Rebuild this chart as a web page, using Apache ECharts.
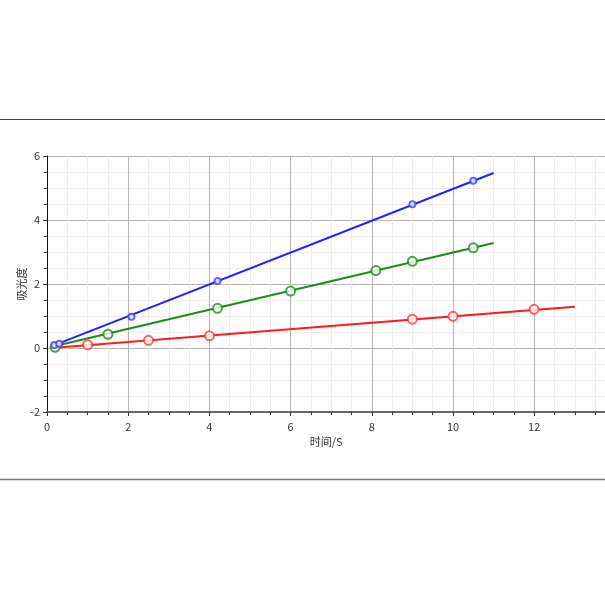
<!DOCTYPE html>
<html>
<head>
<meta charset="utf-8">
<script src="https://cdn.jsdelivr.net/npm/echarts@6/dist/echarts.min.js"></script>
<style>
html,body{margin:0;padding:0;background:#fff;}
#c{width:605px;height:605px;}
</style>
</head>
<body>
<div id="c"></div>
<script>
// Measured points
const bluePoints = [[0.18, 0.09], [0.3, 0.13], [2.08, 0.98], [4.2, 2.09], [9.0, 4.49], [10.5, 5.23]];
const greenPoints = [[0.2, 0.02], [1.5, 0.43], [4.2, 1.24], [6.0, 1.78], [8.1, 2.42], [9.0, 2.71], [10.5, 3.13]];
const redPoints = [[1.0, 0.1], [2.5, 0.24], [4.0, 0.38], [9.0, 0.9], [10.0, 0.99], [12.0, 1.21]];
// Fitted line end points
const blueLine = [[0.12, 0.06], [11.0, 5.47]];
const greenLine = [[0.12, 0.04], [11.0, 3.28]];
const redLine = [[0.12, 0.0], [13.0, 1.29]];
const xName = '时间/S';
const yName = '吸光度';

const chart = echarts.init(document.getElementById('c'), null, {renderer: 'canvas'});
const font = '"Noto Sans CJK SC", "Noto Sans", sans-serif';
const lineSeries = (data, color) => ({
  type: 'line', data, showSymbol: false, symbol: 'none',
  lineStyle: {color, width: 2}, z: 3, silent: true, animation: false
});
const scatterSeries = (data, color, size, bw) => ({
  type: 'scatter', data, symbol: 'emptyCircle', symbolSize: size,
  itemStyle: {color: color, borderColor: color, borderWidth: bw}, z: 4, animation: false
});
chart.setOption({
  animation: false,
  backgroundColor: '#fff',
  grid: {left: 47, width: 568.4, top: 156, height: 256, containLabel: false, outerBoundsMode: 'none'},
  xAxis: {
    type: 'value', min: 0, max: 14, interval: 2,
    name: xName, nameLocation: 'middle', nameGap: 24, nameMoveOverlap: false,
    nameTextStyle: {fontFamily: font, fontSize: 11, color: '#333', padding: [0, 10, 0, 0]},
    axisLine: {show: true, onZero: false, lineStyle: {color: '#666', width: 2}},
    axisTick: {show: true, inside: false, length: 4, lineStyle: {color: '#333'}},
    minorTick: {show: true, splitNumber: 4, length: 3, lineStyle: {color: '#333'}},
    axisLabel: {fontFamily: font, fontSize: 11, color: '#333', margin: 9, showMaxLabel: false},
    splitLine: {show: true, lineStyle: {color: '#b4b4b4', width: 1}},
    minorSplitLine: {show: true, lineStyle: {color: '#ececec', width: 1}}
  },
  yAxis: {
    type: 'value', min: -2, max: 6, interval: 2,
    name: yName, nameLocation: 'middle', nameGap: 20, nameRotate: 90, nameMoveOverlap: false,
    nameTextStyle: {fontFamily: font, fontSize: 11, color: '#333'},
    axisLine: {show: true, onZero: false, lineStyle: {color: '#111', width: 1}},
    axisTick: {show: true, length: 4, lineStyle: {color: '#333'}},
    minorTick: {show: true, splitNumber: 4, length: 3, lineStyle: {color: '#333'}},
    axisLabel: {fontFamily: font, fontSize: 11, color: '#333', margin: 7},
    splitLine: {show: true, lineStyle: {color: '#b4b4b4', width: 1}},
    minorSplitLine: {show: true, lineStyle: {color: '#ececec', width: 1}}
  },
  graphic: [
    {type: 'line', shape: {x1: 0, y1: 119.5, x2: 605, y2: 119.5}, style: {stroke: '#444', lineWidth: 1.2}},
    {type: 'line', shape: {x1: 0, y1: 479.5, x2: 605, y2: 479.5}, style: {stroke: '#777', lineWidth: 1.5}}
  ],
  series: [
    lineSeries(redLine, '#ff1a1a'),
    lineSeries(greenLine, '#1a8c1a'),
    lineSeries(blueLine, '#2020ff'),
    scatterSeries(redPoints, '#ff3838', 9, 1.1),
    scatterSeries(greenPoints, '#1a8c1a', 9, 1.5),
    scatterSeries(bluePoints, '#4040ff', 6, 1.1)
  ]
});
</script>
</body>
</html>
